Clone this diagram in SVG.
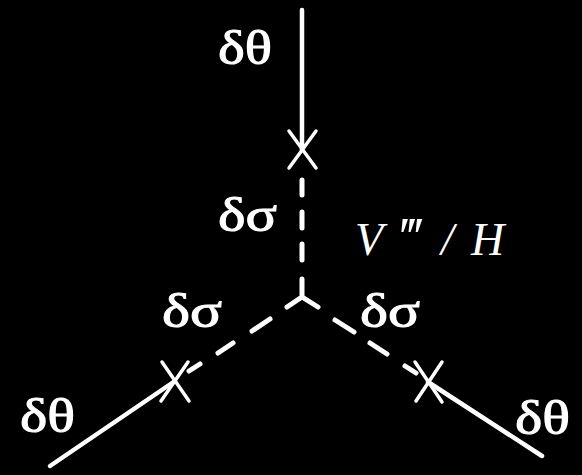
<svg xmlns="http://www.w3.org/2000/svg" width="582" height="475" viewBox="0 0 582 475">
<style>
.solid{stroke:#fff;stroke-width:4.5;stroke-linecap:round;fill:none}
.dash{stroke:#fff;stroke-width:5;stroke-linecap:round;fill:none}
.x{stroke:#fff;stroke-width:3.5;stroke-linecap:round;fill:none}
.g{fill:#fff;stroke:#fff;stroke-width:1;font-family:"Liberation Serif","DejaVu Serif",serif;font-size:48px}
.it{fill:#fff;font-family:"Liberation Serif","DejaVu Serif",serif;font-size:46px;font-style:italic}
</style>
<rect width="582" height="475" fill="#000"/>
<g id="connectors">
<line class="solid" x1="302" y1="10" x2="302" y2="150"/>
<line class="solid" x1="50" y1="466" x2="175" y2="381"/>
<line class="solid" x1="428" y1="382" x2="542" y2="456"/>
<g id="dashes">
<line class="dash" x1="302" y1="180" x2="302" y2="195"/>
<line class="dash" x1="302" y1="212" x2="302" y2="228"/>
<line class="dash" x1="302" y1="244" x2="302" y2="260"/>
<path class="dash" d="M302,279 L302,297 M287,307 L302,297 L318,307"/>
<line class="dash" x1="270" y1="319" x2="252" y2="331"/>
<line class="dash" x1="233" y1="343" x2="218" y2="353"/>
<line class="dash" x1="200" y1="364" x2="189" y2="371"/>
<line class="dash" x1="335" y1="320" x2="354" y2="332"/>
<line class="dash" x1="370" y1="343" x2="387" y2="354"/>
<line class="dash" x1="405" y1="366" x2="416" y2="373"/>
</g>
</g>
<g id="cross-top"><path class="x" d="M289,131 L316,168 M316,131 L289,168"/></g>
<g id="cross-left"><path class="x" d="M162,362 L189,401 M188,362 L161,401"/></g>
<g id="cross-right"><path class="x" d="M415,362 L442,402 M442,362 L416,401"/></g>
<g id="labels">
<text class="g" x="218" y="64" textLength="54" lengthAdjust="spacingAndGlyphs">δθ</text>
<text class="g" x="218" y="231" textLength="59" lengthAdjust="spacingAndGlyphs">δσ</text>
<text class="g" x="162" y="327" textLength="60" lengthAdjust="spacingAndGlyphs">δσ</text>
<text class="g" x="360" y="327" textLength="60" lengthAdjust="spacingAndGlyphs">δσ</text>
<text class="g" x="20" y="432" textLength="55" lengthAdjust="spacingAndGlyphs">δθ</text>
<text class="g" x="515" y="434" textLength="55" lengthAdjust="spacingAndGlyphs">δθ</text>
<text class="it" y="255"><tspan x="355">V</tspan><tspan x="397" font-size="54">‴</tspan><tspan x="441">/</tspan><tspan x="471">H</tspan></text>
</g>
</svg>
